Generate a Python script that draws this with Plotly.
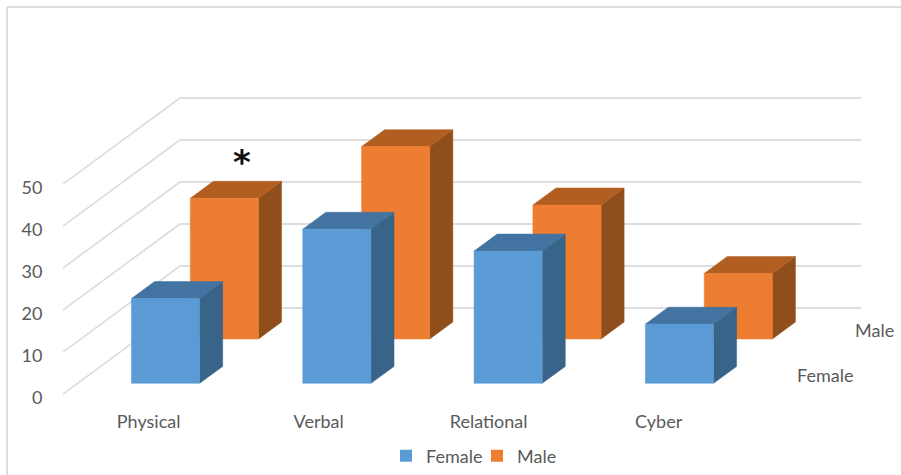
import plotly.graph_objects as go

categories = ["Physical", "Verbal", "Relational", "Cyber"]
female = [20.2, 36.7, 31.5, 14.1]
male = [33.5, 45.8, 31.9, 15.6]
y_ticks = [0, 10, 20, 30, 40, 50]
series_names = ["Female", "Male"]

W, H = 901, 475
L, BOTTOM = 63, 400
ZERO_PX = 398
CAT_PX = 171.3
VAL_PX = 4.2
DEPTH_X = 117 / CAT_PX
DEPTH_Y = 86 / VAL_PX
FLOOR = 4 / VAL_PX          # floor sits a little above the axis' label baseline, as in the reference
BAR_W = 0.398
BAR_OFF = {"Female": 0.315, "Male": 0.306}
BAR_D = 0.197
Z = {"Female": 0.124, "Male": 0.64}
WALL_RIGHT = 798 / CAT_PX


def proj(c, v, z):
    return c + z * DEPTH_X, v + z * DEPTH_Y + FLOOR


def polys(vals, z0, off, face):
    xs, ys = [], []
    for i, v in enumerate(vals):
        a, b = i + off, i + off + BAR_W
        z1 = z0 + BAR_D
        if face == "front":
            pts = [(a, 0, z0), (b, 0, z0), (b, v, z0), (a, v, z0)]
        elif face == "top":
            pts = [(a, v, z0), (b, v, z0), (b, v, z1), (a, v, z1)]
        else:
            pts = [(b, 0, z0), (b, 0, z1), (b, v, z1), (b, v, z0)]
        for p in pts + pts[:1]:
            x, y = proj(*p)
            xs.append(x)
            ys.append(y)
        xs.append(None)
        ys.append(None)
    return xs, ys


fig = go.Figure()

gx, gy = [], []
for t in y_ticks:
    x0, y0 = proj(0, t, 0)
    x1, y1 = proj(0, t, 1)
    gx += [x0, x1, WALL_RIGHT, None]
    gy += [y0, y1, y1, None]
fig.add_trace(go.Scatter(x=gx, y=gy, mode="lines", line=dict(color="#dedede", width=1.8),
                         hoverinfo="skip", showlegend=False, cliponaxis=False))

COLORS = {
    "Female": {"front": "#5B9BD5", "top": "#4373A0", "side": "#386489"},
    "Male": {"front": "#ED7D31", "top": "#B25E20", "side": "#8F4E1B"},
}
for name, vals in (("Male", male), ("Female", female)):
    for face in ("side", "top", "front"):
        xs, ys = polys(vals, Z[name], BAR_OFF[name], face)
        fig.add_trace(go.Scatter(x=xs, y=ys, mode="lines", fill="toself",
                                 fillcolor=COLORS[name][face],
                                 line=dict(color=COLORS[name][face], width=0.5),
                                 hoverinfo="skip", showlegend=False, cliponaxis=False))

for name in series_names:
    fig.add_trace(go.Scatter(x=[None], y=[None], mode="markers", name=name,
                             marker=dict(symbol="square", size=12, color=COLORS[name]["front"])))

FONT = "Lato, 'Open Sans', sans-serif"
TXT = "#595959"
FS = 18
annotations = []
for name, shift in zip(series_names, (-2, -4)):
    x, y = proj(4.13, 0, Z[name] + BAR_D / 2)
    annotations.append(dict(x=x, y=y, text=name, showarrow=False, xanchor="left", yanchor="middle",
                            xshift=shift, yshift=0,
                            font=dict(family=FONT, size=FS, color=TXT)))
ax, ay = proj(BAR_OFF["Male"] + BAR_W / 2, male[0], Z["Male"] + BAR_D)
annotations.append(dict(x=ax, y=ay, text="*", showarrow=False, xanchor="center", yanchor="middle",
                        xshift=-5, yshift=19,
                        font=dict(family="DejaVu Sans", size=34, color="#111111", weight="bold")))


def px_x(p):
    return (p - L) / (W - L)


def px_y(p):
    return 1 - p / BOTTOM


shapes = [
    dict(type="line", xref="paper", yref="paper", x0=px_x(7), x1=px_x(7), y0=px_y(7), y1=px_y(H),
         line=dict(color="#dddddd", width=2)),
    dict(type="line", xref="paper", yref="paper", x0=px_x(7), x1=px_x(W), y0=px_y(7), y1=px_y(7),
         line=dict(color="#dddddd", width=2)),
]

fig.update_layout(
    width=W, height=H,
    margin=dict(l=L, r=0, t=0, b=H - BOTTOM, pad=0),
    paper_bgcolor="white", plot_bgcolor="white",
    font=dict(family=FONT, size=FS, color=TXT),
    showlegend=True,
    legend=dict(orientation="h", xanchor="center", x=px_x(477), yanchor="middle", y=px_y(456),
                font=dict(family=FONT, size=FS, color=TXT), bgcolor="rgba(0,0,0,0)",
                itemwidth=30, tracegroupgap=0, entrywidth=46, entrywidthmode="pixels"),
    annotations=annotations,
    shapes=shapes,
    xaxis=dict(range=[0, (W - L) / CAT_PX], tickmode="array",
               tickvals=[i * 170 / CAT_PX + 0.5 for i in range(len(categories))],
               ticktext=categories, showgrid=False, zeroline=False, showline=False,
               ticks="outside", ticklen=5, tickcolor="rgba(0,0,0,0)",
               tickfont=dict(family=FONT, size=FS, color=TXT)),
    yaxis=dict(range=[(ZERO_PX - BOTTOM) / VAL_PX, ZERO_PX / VAL_PX], tickmode="array",
               tickvals=y_ticks, showgrid=False, zeroline=False, showline=False,
               ticks="outside", ticklen=16, tickcolor="rgba(0,0,0,0)",
               tickfont=dict(family=FONT, size=FS, color=TXT)),
)

fig.write_html("out.html", config={"displayModeBar": False},
               post_script="document.body.style.margin='0';document.documentElement.style.overflow='hidden';")
